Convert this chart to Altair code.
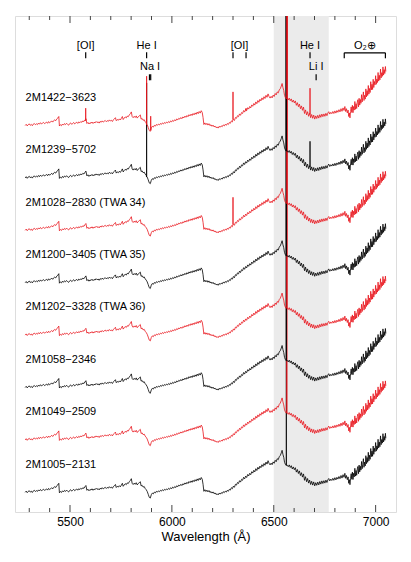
import altair as alt
import pandas as pd

# ---------------- data ----------------
stars = ["2M1422\u22123623", "2M1239\u22125702", "2M1028\u22122830 (TWA 34)",
         "2M1200\u22123405 (TWA 35)", "2M1202\u22123328 (TWA 36)", "2M1058\u22122346",
         "2M1049\u22122509", "2M1005\u22122131"]
star_colors = ["#e8141c", "#000000", "#e8141c", "#000000",
               "#e8141c", "#000000", "#e8141c", "#000000"]
star_offsets = [366.8, 314.4, 262.0, 209.6, 157.2, 104.8, 52.4, 0.0]

# common spectral shape (normalised flux, arbitrary units)
tmpl_wave = [
    5280, 5285, 5290, 5295, 5300, 5305, 5310, 5315, 5320, 5325, 5330, 5335, 5340, 5345,
    5350, 5355, 5360, 5365, 5370, 5375, 5380, 5385, 5390, 5395, 5400, 5405, 5410, 5415,
    5420, 5425, 5430, 5435, 5440, 5445, 5448, 5453, 5458, 5463, 5468, 5473, 5478, 5483,
    5488, 5493, 5498, 5503, 5508, 5513, 5518, 5523, 5528, 5533, 5538, 5543, 5548, 5553,
    5558, 5563, 5568, 5573, 5578, 5583, 5588, 5593, 5598, 5603, 5608, 5613, 5618, 5623,
    5628, 5633, 5638, 5643, 5648, 5653, 5658, 5663, 5668, 5673, 5678, 5683, 5688, 5693,
    5698, 5703, 5708, 5713, 5718, 5723, 5727, 5732, 5737, 5742, 5747, 5752, 5757, 5761,
    5766, 5771, 5776, 5781, 5786, 5791, 5796, 5801, 5805, 5810, 5815, 5820, 5825, 5830,
    5835, 5840, 5845, 5849, 5854, 5859, 5864, 5869, 5874, 5879, 5884, 5889, 5894, 5899,
    5904, 5909, 5914, 5919, 5924, 5929, 5934, 5939, 5944, 5949, 5954, 5959, 5964, 5969,
    5974, 5979, 5984, 5989, 5994, 5999, 6004, 6009, 6014, 6019, 6024, 6029, 6034, 6039,
    6044, 6049, 6054, 6059, 6064, 6069, 6074, 6079, 6084, 6089, 6094, 6099, 6104, 6109,
    6114, 6119, 6124, 6129, 6134, 6139, 6144, 6149, 6153, 6157, 6162, 6167, 6172, 6177,
    6182, 6187, 6192, 6197, 6202, 6207, 6212, 6217, 6222, 6227, 6232, 6237, 6242, 6247,
    6252, 6257, 6262, 6267, 6272, 6277, 6282, 6287, 6292, 6297, 6302, 6307, 6312, 6317,
    6322, 6327, 6332, 6337, 6342, 6347, 6352, 6357, 6362, 6367, 6372, 6377, 6382, 6387,
    6392, 6397, 6402, 6407, 6412, 6417, 6422, 6427, 6432, 6437, 6442, 6447, 6452, 6457,
    6462, 6467, 6472, 6477, 6482, 6487, 6492, 6497, 6502, 6507, 6512, 6517, 6522, 6527,
    6532, 6537, 6541, 6545, 6549, 6553, 6557, 6560, 6567, 6571, 6576, 6581, 6586, 6591,
    6596, 6601, 6606, 6611, 6616, 6621, 6626, 6631, 6636, 6641, 6646, 6651, 6656, 6661,
    6666, 6671, 6676, 6681, 6686, 6691, 6696, 6701, 6706, 6711, 6716, 6721, 6726, 6731,
    6736, 6741, 6746, 6751, 6756, 6761, 6766, 6770, 6775, 6780, 6785, 6790, 6795, 6800,
    6805, 6810, 6815, 6820, 6825, 6830, 6835, 6840, 6845, 6849, 6853, 6857, 6861, 6865,
    6868, 6871, 6874, 6877, 6880, 6883, 6886, 6889, 6892, 6895, 6898, 6901, 6904, 6907,
    6910, 6913, 6916, 6919, 6922, 6925, 6928, 6931, 6934, 6937, 6940, 6943, 6946, 6949,
    6952, 6955, 6958, 6961, 6964, 6967, 6970, 6973, 6976, 6979, 6982, 6985, 6988, 6991,
    6994, 6997, 7000, 7003, 7006, 7009, 7012, 7015, 7018, 7021, 7024, 7027, 7030, 7033,
    7036, 7039, 7042, 7045, 7048, 7050]
tmpl_flux = [
    0.0, 1.2, -0.4, 0.9, 1.6, 0.2, 1.1, -0.2, 1.4, 2.0, 0.8, 1.7, 0.9, 2.4,
    1.3, 2.8, 1.6, 2.3, 3.1, 1.9, 2.6, 3.4, 2.2, 3.9, 2.7, 3.5, 4.6, 3.4,
    4.9, 5.6, 4.8, 6.6, 7.4, 9.0, -0.5, 0.8, -0.2, 1.5, 0.4, 1.9, 0.9, 2.2,
    1.1, 0.3, 1.8, 2.6, 1.2, 2.0, 3.0, 1.6, 2.5, 3.3, 2.1, 3.6, 2.7, 4.0,
    3.2, 4.6, 3.9, 5.5, 6.8, 2.0, 3.1, 1.5, 2.8, 2.2, 3.5, 2.0, 3.3, 2.6,
    4.0, 2.9, 3.7, 2.4, 4.1, 3.2, 4.6, 3.4, 4.3, 5.0, 3.8, 4.9, 4.1, 5.6,
    4.5, 5.2, 4.0, 5.8, 6.6, 7.8, 4.8, 6.0, 5.2, 6.6, 5.5, 7.2, 9.0, 6.0,
    7.4, 8.6, 7.6, 9.4, 8.8, 10.6, 11.8, 13.6, 9.0, 7.8, 9.2, 8.0, 9.6, 7.4,
    8.8, 9.6, 10.6, 6.4, 7.0, 5.2, 5.8, 3.8, 2.6, 0.8, -2.0, -5.0, -5.8, -2.4,
    -0.8, -1.6, 0.2, -0.6, 1.0, 0.2, 1.4, 0.6, 2.0, 1.2, 2.6, 1.6, 3.0, 2.2,
    3.4, 2.6, 4.0, 3.0, 4.6, 3.6, 5.2, 4.2, 5.8, 4.8, 6.6, 5.6, 7.2, 6.4,
    8.0, 6.8, 8.6, 7.6, 9.4, 8.2, 10.0, 8.8, 10.8, 9.6, 11.4, 10.0, 12.0, 10.6,
    12.6, 11.2, 13.4, 11.8, 14.0, 12.4, 14.8, 13.0, 8.0, 1.0, 2.6, 0.8, 2.2, 0.4,
    1.8, -0.2, 0.8, -0.8, 0.4, -1.4, -0.6, -2.2, -1.4, -2.6, -0.8, -1.8, -0.4, -1.2,
    0.6, -0.4, 1.2, 0.2, 2.0, 1.0, 3.0, 2.2, 4.6, 3.6, 6.2, 5.0, 8.0, 7.2,
    9.8, 8.8, 11.6, 10.2, 13.0, 12.0, 15.0, 13.4, 16.2, 14.8, 17.8, 16.4, 19.0, 17.6,
    20.6, 19.2, 22.0, 20.4, 23.6, 21.8, 25.0, 23.2, 26.2, 24.6, 27.6, 25.8, 28.8, 27.0,
    30.2, 28.2, 31.6, 29.0, 27.4, 29.2, 27.6, 30.4, 29.0, 32.0, 30.6, 33.6, 32.6, 35.6,
    36.8, 39.4, 42.0, 38.0, 35.0, 30.0, 28.0, 27.0, 27.0, 25.6, 27.4, 24.8, 26.6, 23.4,
    25.4, 22.6, 24.6, 20.2, 22.8, 18.8, 21.4, 16.8, 19.6, 15.2, 18.4, 12.0, 15.6, 10.6,
    13.8, 9.2, 12.2, 7.8, 11.0, 7.2, 10.4, 6.4, 9.6, 7.0, 10.2, 7.4, 10.8, 8.2,
    11.4, 8.8, 11.6, 9.2, 12.2, 9.8, 12.6, 13.8, 11.4, 13.2, 11.8, 14.0, 12.0, 14.6,
    12.4, 15.0, 13.2, 15.8, 13.6, 16.8, 14.2, 17.6, 15.0, 19.0, 14.0, 16.8, 12.6, 15.4,
    9.0, 12.6, 7.6, 14.0, 18.6, 13.0, 20.2, 12.8, 19.0, 15.4, 24.0, 16.2, 21.8, 17.0,
    23.4, 25.8, 18.6, 27.2, 20.4, 26.0, 22.2, 30.8, 23.6, 28.0, 33.6, 25.0, 30.2, 26.4,
    36.6, 28.6, 34.8, 30.0, 40.0, 31.4, 37.0, 33.0, 43.8, 35.6, 41.2, 36.0, 46.2, 38.0,
    44.0, 40.6, 49.8, 41.2, 46.4, 43.0, 53.0, 44.4, 50.2, 45.6, 56.4, 47.6, 52.8, 49.2,
    58.6, 50.4, 55.8, 52.0, 59.0, 54.0]

# emission lines: star index, wavelength, foot level, peak level
line_star = [0, 0, 0, 0, 0, 0, 0, 1, 1, 1, 2, 2, 3, 4, 5, 6, 7]
line_wave = [5577, 5876, 5896, 6300, 6364, 6678, 6564.3, 5876, 6678, 6561.8,
             6300, 6564.3, 6561.8, 6564.3, 6561.8, 6564.3, 6561.8]
line_foot = [5.0, 1.0, -5.0, 6.0, 15.0, 11.0, 27.0, 1.0, 11.0, 27.0,
             6.0, 27.0, 27.0, 27.0, 27.0, 27.0, 27.0]
line_peak = [17.3, 49.3, 9.3, 33.6, 17.3, 37.3, 900.0, 95.0, 36.6, 900.0,
             33.0, 900.0, 900.0, 900.0, 900.0, 900.0, 900.0]

# annotations
ann_text = ["[OI]", "He I", "Na I", "[OI]", "He I", "Li I", "O\u2082\u2295"]
ann_wave = [5577, 5876, 5893, 6332, 6678, 6708, 6947]
ann_row = [1, 1, 2, 1, 1, 2, 1]
mark_wave = [5577, 5876, 5890, 5896, 6300, 6364, 6678, 6708]
mark_row = [1, 1, 2, 2, 1, 1, 1, 2]
o2_band = [6846, 7048]
ha_band = [6500, 6770]

major_ticks = [5500, 6000, 6500, 7000]
minor_ticks = [5300, 5400, 5600, 5700, 5800, 5900, 6100, 6200, 6300, 6400,
               6600, 6700, 6800, 6900]

# ---------------- build tables ----------------
rows = []
for k, name in enumerate(stars):
    pts = list(zip(tmpl_wave, tmpl_flux))
    for s, w, f, p in zip(line_star, line_wave, line_foot, line_peak):
        if s == k:
            pts += [(w - 0.4, f), (w, p), (w + 0.4, f)]
    pts.sort()
    for w, f in pts:
        rows.append({"star": name, "wave": w, "flux": f + star_offsets[k]})
spec = pd.DataFrame(rows)

W, H = 381, 496
xs = alt.Scale(domain=[5230, 7100], nice=False, zero=False)
ys = alt.Scale(domain=[-19.7, 476.3], nice=False, zero=False)

ROW_TEXT = {1: 446, 2: 425}
ROW_TICK = {1: (440, 434), 2: (418, 412)}

band = alt.Chart(pd.DataFrame({"a": [ha_band[0]], "b": [ha_band[1]]})).mark_rect(
    color="#ebebeb").encode(x=alt.X("a:Q", scale=xs, axis=alt.Axis(
        values=major_ticks, ticks=False, domain=False, grid=False, labelFontSize=12,
        labelFont="Liberation Sans", labelColor="#000", labelPadding=4,
        title="Wavelength (\u00c5)", titleFont="Liberation Sans", titleFontSize=13,
        titleFontWeight="normal", titleColor="#000", titlePadding=3, format="d")),
    x2="b:Q", y=alt.value(0), y2=alt.value(H))

layers = [band]
for k in reversed(range(len(stars))):
    name = stars[k]
    layers.append(alt.Chart(spec).transform_filter(alt.datum.star == name).mark_line(
        color=star_colors[k], strokeWidth=0.8, clip=True).encode(
        x=alt.X("wave:Q", scale=xs), y=alt.Y("flux:Q", scale=ys, axis=None)))

lab = pd.DataFrame({"t": stars, "x": [5282] * len(stars),
                    "y": [o + 27.7 for o in star_offsets]})
layers.append(alt.Chart(lab).mark_text(align="left", baseline="middle", fontSize=11,
                                       font="Liberation Sans", color="black").encode(
    x=alt.X("x:Q", scale=xs), y=alt.Y("y:Q", scale=ys), text="t:N"))

ann = pd.DataFrame({"t": ann_text, "x": ann_wave, "y": [ROW_TEXT[r] for r in ann_row]})
layers.append(alt.Chart(ann).mark_text(align="center", baseline="middle", fontSize=11,
                                       font="Liberation Sans", color="black").encode(
    x=alt.X("x:Q", scale=xs), y=alt.Y("y:Q", scale=ys), text="t:N"))

mk = pd.DataFrame({"x": mark_wave, "y": [ROW_TICK[r][0] for r in mark_row],
                   "y2": [ROW_TICK[r][1] for r in mark_row]})
layers.append(alt.Chart(mk).mark_rule(color="black", strokeWidth=1.2).encode(
    x=alt.X("x:Q", scale=xs), y=alt.Y("y:Q", scale=ys), y2="y2:Q"))

br = pd.DataFrame({"x": [o2_band[0], o2_band[0], o2_band[1]],
                   "x2": [o2_band[1], o2_band[0], o2_band[1]],
                   "y": [439.5, 439.5, 439.5], "y2": [439.5, 434, 434]})
layers.append(alt.Chart(br).mark_rule(color="black", strokeWidth=1.2).encode(
    x=alt.X("x:Q", scale=xs), x2="x2:Q", y=alt.Y("y:Q", scale=ys), y2="y2:Q"))

for ticks, ln in ((major_ticks, 7), (minor_ticks, 4)):
    td = pd.DataFrame({"x": ticks})
    layers.append(alt.Chart(td).mark_rule(color="#444", strokeWidth=1).encode(
        x=alt.X("x:Q", scale=xs), y=alt.value(H), y2=alt.value(H - ln)))
    layers.append(alt.Chart(td).mark_rule(color="#444", strokeWidth=1).encode(
        x=alt.X("x:Q", scale=xs), y=alt.value(0), y2=alt.value(ln)))

chart = alt.layer(*layers).properties(
    width=W, height=H, padding={"left": 7, "top": 7, "right": 5, "bottom": 5}
).configure_view(stroke="#444", strokeWidth=1.2).configure(background="white")

chart.save("out.html", embed_options={"renderer": "svg", "actions": False})
